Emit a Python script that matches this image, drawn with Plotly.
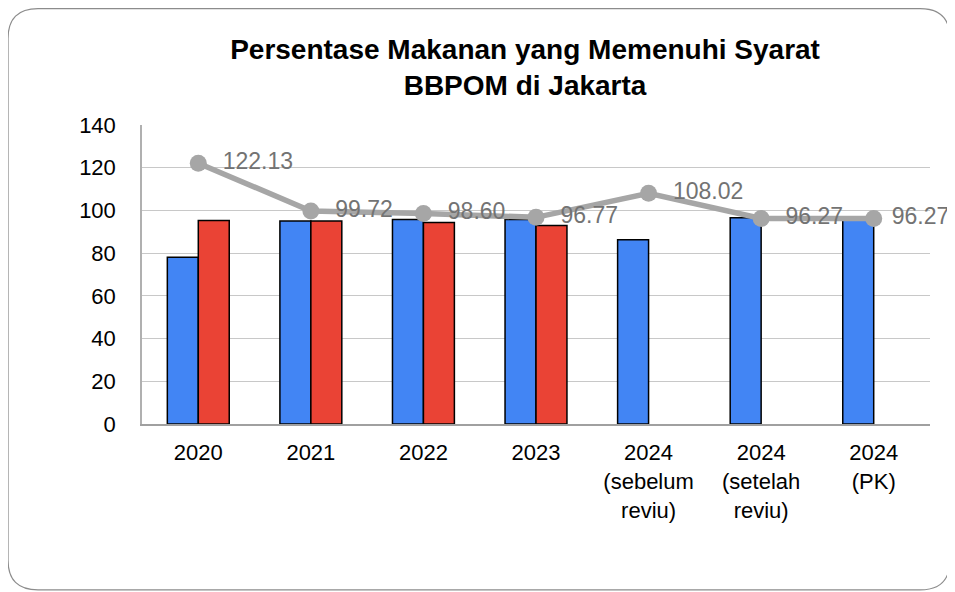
import plotly.graph_objs as go

# data
categories = ['2020', '2021', '2022', '2023',
              '2024<br>(sebelum<br>reviu)', '2024<br>(setelah<br>reviu)', '2024<br>(PK)']
blue_values = [78.1, 95.0, 95.7, 95.8, 86.3, 96.6, 95.8]
red_values = [95.3, 95.0, 94.4, 93.0, None, None, None]
line_values = [122.13, 99.72, 98.60, 96.77, 108.02, 96.27, 96.27]
line_labels = ['122.13', '99.72', '98.60', '96.77', '108.02', '96.27', '96.27']

# nbsp pads the gap after the marker; the last label is squeezed at the right edge
pads = ['\u00a0\u00a0'] * 6 + ['\u00a0']

fig = go.Figure()
fig.add_trace(go.Bar(x=categories, y=blue_values, name='A',
                     marker=dict(color='#4285f4', line=dict(color='black', width=1.5))))
fig.add_trace(go.Bar(x=categories, y=red_values, name='B',
                     marker=dict(color='#ea4335', line=dict(color='black', width=1.5))))
# gray line with value labels
fig.add_trace(go.Scatter(x=categories, y=line_values, mode='lines+markers+text',
                         text=[p + t for p, t in zip(pads, line_labels)], textposition='middle right',
                         textfont=dict(size=23, color='#737373', family='Liberation Sans, Arial'),
                         line=dict(color='#a6a6a6', width=5.5),
                         marker=dict(color='#a6a6a6', size=17),
                         cliponaxis=False))

# rounded frame around the whole chart (paper coords, plot area 788x299 px)
x0, x1, y0, y1 = -0.170, 1.0254, -0.555, 1.389
rx, ry = 30 / 788, 30 / 299
path = (f'M {x0+rx},{y1} L {x1-rx},{y1} Q {x1},{y1} {x1},{y1-ry} '
        f'L {x1},{y0+ry} Q {x1},{y0} {x1-rx},{y0} '
        f'L {x0+rx},{y0} Q {x0},{y0} {x0},{y0+ry} '
        f'L {x0},{y1-ry} Q {x0},{y1} {x0+rx},{y1} Z')
fig.add_shape(type='path', path=path, xref='paper', yref='paper',
              line=dict(color='#8c8c8c', width=1.2), layer='below')

fig.update_layout(
    title=dict(text='<b>Persentase Makanan yang Memenuhi Syarat<br>BBPOM di Jakarta</b>',
               x=0.546, xanchor='center', y=0.913, yanchor='top',
               font=dict(size=28, color='black', family='Liberation Sans, Arial')),
    barmode='group', bargap=0.45, bargroupgap=0,
    showlegend=False,
    plot_bgcolor='white', paper_bgcolor='white',
    font=dict(family='Liberation Sans, Arial', size=22, color='black'),
    margin=dict(l=134, r=25, t=117, b=168),
    width=947, height=584,
)
fig.update_yaxes(range=[0, 140], dtick=20, showgrid=True, gridcolor='#c8c8c8', gridwidth=1,
                 showline=True, linecolor='#b0b0b0', linewidth=1.5, ticks='', ticklabelstandoff=20,
                 zeroline=False)
fig.update_xaxes(showline=True, linecolor='#a0a0a0', linewidth=2, ticks='', ticklabelstandoff=8)

fig.write_html('out.html')
